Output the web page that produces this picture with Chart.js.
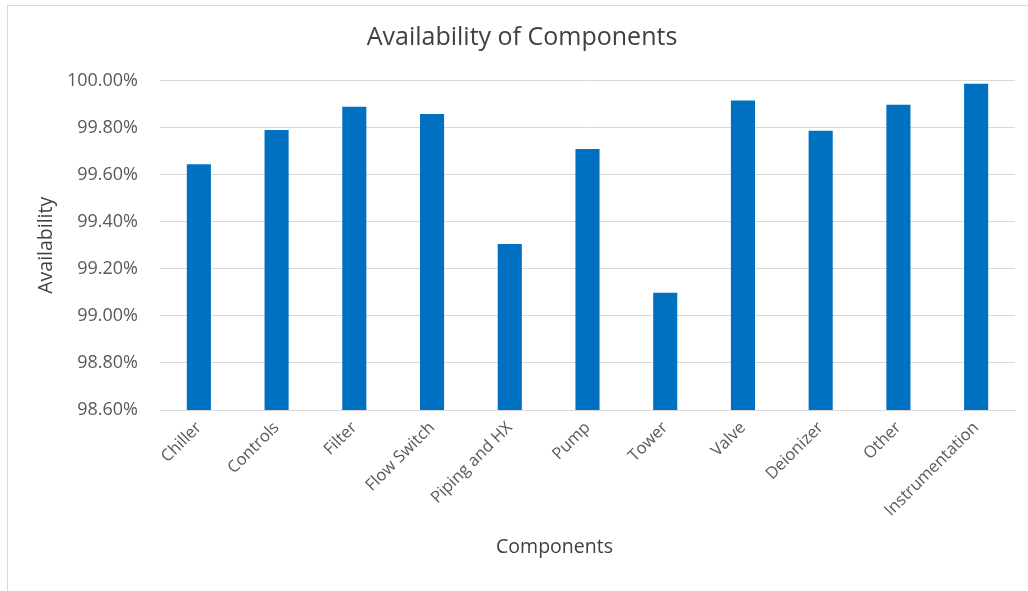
<!DOCTYPE html>
<html>
<head>
<meta charset="utf-8">
<script src="https://cdn.jsdelivr.net/npm/chart.js@4"></script>
<style>
  html, body { margin: 0; padding: 0; background: #fff; }
  #wrap { position: relative; width: 1028px; height: 591px; }
  #frame { position: absolute; left: 7px; top: 5px; right: 0; bottom: 0;
           border-left: 1px solid #d9d9d9; border-top: 1px solid #d9d9d9; pointer-events: none; }
  canvas { position: absolute; left: 0; top: 0; }
</style>
</head>
<body>
<div id="wrap">
  <div id="frame"></div>
  <canvas id="c" width="1028" height="591"></canvas>
</div>
<script>
const categories = ["Chiller", "Controls", "Filter", "Flow Switch", "Piping and HX", "Pump", "Tower", "Valve", "Deionizer", "Other", "Instrumentation"];
const availability = [99.644, 99.79, 99.888, 99.858, 99.305, 99.709, 99.098, 99.915, 99.786, 99.897, 99.986];
const yMin = 98.6;
const yMax = 100.0;
const yStep = 0.2;
const xAxisTitle = 'Components';

const FONT = "'Open Sans', sans-serif";
const TXT = "#595959";
const TITLE = "#404040";
const GRID = "#d9d9d9";

// x-axis title, centred where the reference places it (slightly left of the plot centre)
const xTitlePlugin = {
  id: 'xTitle',
  afterDraw(chart) {
    const ctx = chart.ctx;
    const area = chart.chartArea;
    ctx.save();
    ctx.font = "19.5px 'Open Sans', sans-serif";
    ctx.fillStyle = TITLE;
    ctx.textAlign = 'center';
    ctx.textBaseline = 'middle';
    const cx = (area.left + area.right) / 2 - 33;
    ctx.fillText(xAxisTitle, cx, area.bottom + 137);
    ctx.restore();
  }
};

new Chart(document.getElementById('c'), {
  type: 'bar',
  data: {
    labels: categories,
    datasets: [{
      label: 'Availability',
      data: availability,
      backgroundColor: '#0070C0',
      borderWidth: 0,
      barPercentage: 0.31,
      categoryPercentage: 1.0
    }]
  },
  plugins: [xTitlePlugin],
  options: {
    responsive: false,
    animation: false,
    devicePixelRatio: 1,
    layout: { padding: { left: 29, right: 13, top: 0, bottom: 29 } },
    plugins: {
      legend: { display: false },
      tooltip: { enabled: false },
      title: {
        display: true,
        text: 'Availability of Components',
        color: TITLE,
        font: { family: FONT, size: 25, weight: 'normal' },
        padding: { top: 23, bottom: 27.5 }
      }
    },
    scales: {
      x: {
        grid: { display: false, drawTicks: false },
        border: { display: true, color: GRID, width: 1 },
        ticks: {
          color: TXT,
          font: { family: FONT, size: 16.5 },
          minRotation: 45,
          maxRotation: 45,
          padding: 8,
          autoSkip: false
        },
        title: { display: false, text: xAxisTitle },
        afterFit: (s) => { s.height = 152; }
      },
      y: {
        min: yMin,
        max: yMax,
        grid: { color: GRID, lineWidth: 1, drawTicks: false },
        border: { display: false },
        ticks: {
          stepSize: yStep,
          color: TXT,
          font: { family: FONT, size: 18 },
          padding: 22,
          callback: (v) => Number(v).toFixed(2) + '%'
        },
        title: {
          display: true,
          text: 'Availability',
          color: TITLE,
          font: { family: FONT, size: 19.5 },
          padding: { top: 6, bottom: 0 }
        },
        afterFit: (s) => { s.width = 131; }
      }
    }
  }
});
</script>
</body>
</html>
